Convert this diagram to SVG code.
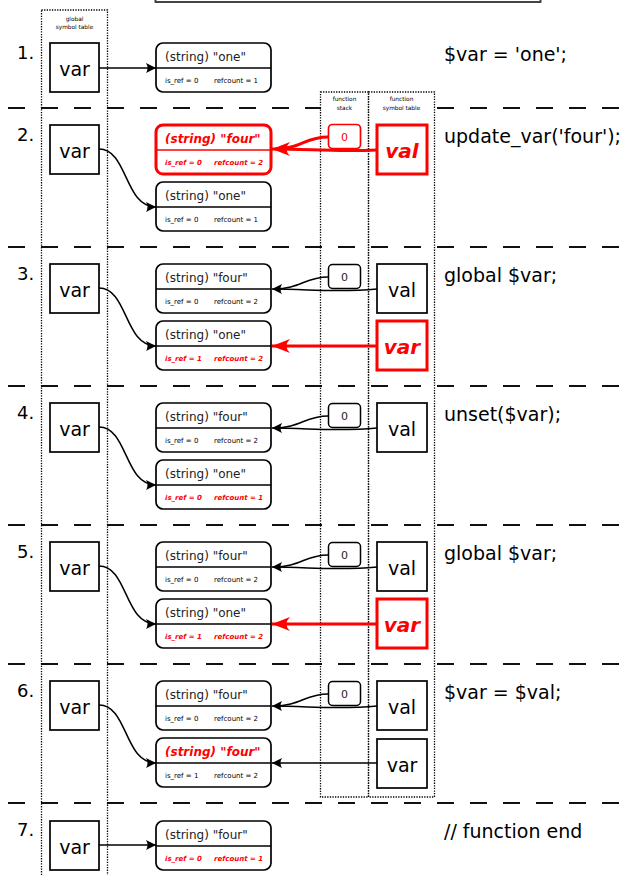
<svg xmlns="http://www.w3.org/2000/svg" width="624" height="875" viewBox="0 0 624 875">
<style>
text{font-family:"DejaVu Sans","Liberation Sans",sans-serif}
.num{font-size:18px;fill:#000}
.code{font-size:19px;fill:#000}
.vt{font-size:19px;text-anchor:middle;fill:#000}
.vtr{font-size:20px;text-anchor:middle;fill:#f00;font-weight:bold;font-style:italic}
.st{font-size:12px;fill:#222}
.str{font-size:12px;fill:#f00;font-weight:bold;font-style:italic}
.rt{font-size:7px;fill:#000}
.rtr{font-size:7px;fill:#f00;font-weight:bold;font-style:italic}
.hd{font-size:5.8px;text-anchor:middle;fill:#000}
.zt{font-size:11px;text-anchor:middle;fill:#222}
.ztr{font-size:11px;text-anchor:middle;fill:#f00}
.box{fill:#fff;stroke:#000;stroke-width:1.7}
.boxr{fill:#fff;stroke:#f00;stroke-width:3}
.div{stroke:#000;stroke-width:1.7}
.divr{stroke:#f00;stroke-width:1.5}
.sep{stroke:#111;stroke-width:2;stroke-dasharray:17 16;fill:none}
.dot{fill:none;stroke:#000;stroke-width:1.3;stroke-dasharray:1.3 1.3}
.ln{fill:none;stroke:#000;stroke-width:1.5}
.lnr{fill:none;stroke:#f00;stroke-width:3}
</style>
<defs>
<marker id="ah" markerUnits="userSpaceOnUse" markerWidth="12" markerHeight="12" viewBox="-11 -6 12 12" refX="0" refY="0" orient="auto">
<path d="M0,0 L-10,-5 Q-7,0 -10,5 Z" fill="#000"/>
</marker>
<marker id="ahr" markerUnits="userSpaceOnUse" markerWidth="20" markerHeight="16" viewBox="-19 -8 20 16" refX="0" refY="0" orient="auto">
<path d="M0,0 L-18,-7 Q-11,0 -18,7 Z" fill="#f00"/>
</marker>
</defs>
<rect x="0" y="0" width="624" height="875" fill="#fff"/>
<!-- partially visible top box -->
<rect x="155.5" y="-20" width="385" height="22" fill="none" stroke="#444" stroke-width="2"/>

<!-- separators -->
<g id="separators">
<line class="sep" x1="8" y1="108" x2="624" y2="108"/>
<line class="sep" x1="8" y1="247" x2="624" y2="247"/>
<line class="sep" x1="8" y1="386" x2="624" y2="386"/>
<line class="sep" x1="8" y1="525" x2="624" y2="525"/>
<line class="sep" x1="8" y1="664" x2="624" y2="664"/>
<line class="sep" x1="8" y1="803" x2="624" y2="803"/>
</g>

<!-- tables -->
<g id="global-table">
<rect class="dot" x="41.5" y="10" width="66" height="880"/>
<rect x="44" y="13" width="61" height="18" fill="#fff"/>
<text class="hd" x="74.5" y="20.5">global</text>
<text class="hd" x="74.5" y="28.5">symbol table</text>
</g>
<g id="function-tables">
<rect x="321" y="93" width="113" height="19" fill="#fff"/>
<rect class="dot" x="320.5" y="92" width="48" height="705"/>
<rect class="dot" x="368.5" y="92" width="66" height="705"/>
<text class="hd" x="344.5" y="101">function</text>
<text class="hd" x="344.5" y="109.5">stack</text>
<text class="hd" x="401.5" y="101">function</text>
<text class="hd" x="401.5" y="109.5">symbol table</text>
</g>

<!-- row numbers and code -->
<g id="labels">
<text class="num" x="17" y="59">1.</text>
<text class="num" x="17" y="141">2.</text>
<text class="num" x="17" y="280">3.</text>
<text class="num" x="17" y="419">4.</text>
<text class="num" x="17" y="558">5.</text>
<text class="num" x="17" y="697">6.</text>
<text class="num" x="17" y="836">7.</text>
<text class="code" x="444" y="61">$var = 'one';</text>
<text class="code" x="444" y="143">update_var('four');</text>
<text class="code" x="444" y="282">global $var;</text>
<text class="code" x="444" y="421">unset($var);</text>
<text class="code" x="444" y="560">global $var;</text>
<text class="code" x="444" y="699">$var = $val;</text>
<text class="code" x="444" y="838">// function end</text>
</g>

<!-- connectors -->
<g id="connectors">
<path class="ln" marker-end="url(#ah)" d="M99,68 L156,68"/>
<path class="ln" marker-end="url(#ah)" d="M99,149 C128,149 124,207 156,207"/>
<path class="ln" marker-end="url(#ah)" d="M99,288 C128,288 124,346 156,346"/>
<path class="ln" marker-end="url(#ah)" d="M99,427 C128,427 124,485 156,485"/>
<path class="ln" marker-end="url(#ah)" d="M99,566 C128,566 124,624 156,624"/>
<path class="ln" marker-end="url(#ah)" d="M99,705 C128,705 124,763 156,763"/>
<path class="ln" marker-end="url(#ah)" d="M99,845 L156,845"/>
<!-- row 2 red -->
<path class="lnr" d="M328,137 C305,137 300,149 275,149"/>
<path class="lnr" marker-end="url(#ahr)" d="M377,150 C335,152 310,149 272,149"/>
<!-- rows 3-6 -->
<path class="ln" d="M328,277 C305,277 300,289 274,289"/>
<path class="ln" marker-end="url(#ah)" d="M377,289 C335,293 310,289 272,289"/>
<path class="lnr" marker-end="url(#ahr)" d="M377,346 L272,346"/>
<path class="ln" d="M328,416 C305,416 300,428 274,428"/>
<path class="ln" marker-end="url(#ah)" d="M377,428 C335,432 310,428 272,428"/>
<path class="ln" d="M328,555 C305,555 300,567 274,567"/>
<path class="ln" marker-end="url(#ah)" d="M377,567 C335,571 310,567 272,567"/>
<path class="lnr" marker-end="url(#ahr)" d="M377,624 L272,624"/>
<path class="ln" d="M328,694 C305,694 300,706 274,706"/>
<path class="ln" marker-end="url(#ah)" d="M377,706 C335,710 310,706 272,706"/>
<path class="ln" marker-end="url(#ah)" d="M377,763 L272,763"/>
</g>

<!-- global var boxes -->
<g id="gvar1"><rect class="box" x="50" y="43" width="49" height="49"/><text class="vt" x="74.5" y="76">var</text></g>
<g id="gvar2"><rect class="box" x="50" y="125" width="49" height="49"/><text class="vt" x="74.5" y="158">var</text></g>
<g id="gvar3"><rect class="box" x="50" y="264" width="49" height="49"/><text class="vt" x="74.5" y="297">var</text></g>
<g id="gvar4"><rect class="box" x="50" y="403" width="49" height="49"/><text class="vt" x="74.5" y="436">var</text></g>
<g id="gvar5"><rect class="box" x="50" y="542" width="49" height="49"/><text class="vt" x="74.5" y="575">var</text></g>
<g id="gvar6"><rect class="box" x="50" y="681" width="49" height="49"/><text class="vt" x="74.5" y="714">var</text></g>
<g id="gvar7"><rect class="box" x="50" y="821" width="49" height="49"/><text class="vt" x="74.5" y="854">var</text></g>

<!-- zvals -->
<g id="zval1">
<rect class="box" x="156" y="43" width="115" height="49" rx="7"/>
<line class="div" x1="156" y1="68" x2="271" y2="68"/>
<text class="st" x="165" y="61">(string) "one"</text>
<text class="rt" x="165" y="83">is_ref = 0</text><text class="rt" x="214" y="83">refcount = 1</text>
</g>
<g id="zval2a">
<rect class="boxr" x="156" y="125" width="115" height="49" rx="7"/>
<line class="divr" x1="156" y1="150" x2="271" y2="150"/>
<text class="str" x="165" y="143">(string) "four"</text>
<text class="rtr" x="165" y="165">is_ref = 0</text><text class="rtr" x="214" y="165">refcount = 2</text>
</g>
<g id="zval2b">
<rect class="box" x="156" y="182" width="115" height="49" rx="7"/>
<line class="div" x1="156" y1="207" x2="271" y2="207"/>
<text class="st" x="165" y="200">(string) "one"</text>
<text class="rt" x="165" y="222">is_ref = 0</text><text class="rt" x="214" y="222">refcount = 1</text>
</g>
<g id="zval3a">
<rect class="box" x="156" y="264" width="115" height="49" rx="7"/>
<line class="div" x1="156" y1="289" x2="271" y2="289"/>
<text class="st" x="165" y="282">(string) "four"</text>
<text class="rt" x="165" y="304">is_ref = 0</text><text class="rt" x="214" y="304">refcount = 2</text>
</g>
<g id="zval3b">
<rect class="box" x="156" y="321" width="115" height="49" rx="7"/>
<line class="div" x1="156" y1="346" x2="271" y2="346"/>
<text class="st" x="165" y="339">(string) "one"</text>
<text class="rtr" x="165" y="361">is_ref = 1</text><text class="rtr" x="214" y="361">refcount = 2</text>
</g>
<g id="zval4a">
<rect class="box" x="156" y="403" width="115" height="49" rx="7"/>
<line class="div" x1="156" y1="428" x2="271" y2="428"/>
<text class="st" x="165" y="421">(string) "four"</text>
<text class="rt" x="165" y="443">is_ref = 0</text><text class="rt" x="214" y="443">refcount = 2</text>
</g>
<g id="zval4b">
<rect class="box" x="156" y="460" width="115" height="49" rx="7"/>
<line class="div" x1="156" y1="485" x2="271" y2="485"/>
<text class="st" x="165" y="478">(string) "one"</text>
<text class="rtr" x="165" y="500">is_ref = 0</text><text class="rtr" x="214" y="500">refcount = 1</text>
</g>
<g id="zval5a">
<rect class="box" x="156" y="542" width="115" height="49" rx="7"/>
<line class="div" x1="156" y1="567" x2="271" y2="567"/>
<text class="st" x="165" y="560">(string) "four"</text>
<text class="rt" x="165" y="582">is_ref = 0</text><text class="rt" x="214" y="582">refcount = 2</text>
</g>
<g id="zval5b">
<rect class="box" x="156" y="599" width="115" height="49" rx="7"/>
<line class="div" x1="156" y1="624" x2="271" y2="624"/>
<text class="st" x="165" y="617">(string) "one"</text>
<text class="rtr" x="165" y="639">is_ref = 1</text><text class="rtr" x="214" y="639">refcount = 2</text>
</g>
<g id="zval6a">
<rect class="box" x="156" y="681" width="115" height="49" rx="7"/>
<line class="div" x1="156" y1="706" x2="271" y2="706"/>
<text class="st" x="165" y="699">(string) "four"</text>
<text class="rt" x="165" y="721">is_ref = 0</text><text class="rt" x="214" y="721">refcount = 2</text>
</g>
<g id="zval6b">
<rect class="box" x="156" y="738" width="115" height="49" rx="7"/>
<line class="div" x1="156" y1="763" x2="271" y2="763"/>
<text class="str" x="165" y="756">(string) "four"</text>
<text class="rt" x="165" y="778">is_ref = 1</text><text class="rt" x="214" y="778">refcount = 2</text>
</g>
<g id="zval7">
<rect class="box" x="156" y="821" width="115" height="49" rx="7"/>
<line class="div" x1="156" y1="846" x2="271" y2="846"/>
<text class="st" x="165" y="839">(string) "four"</text>
<text class="rtr" x="165" y="861">is_ref = 0</text><text class="rtr" x="214" y="861">refcount = 1</text>
</g>

<!-- function stack entries -->
<g id="stack2"><rect x="328.5" y="124.5" width="32" height="24" rx="4" fill="#fff" stroke="#f00" stroke-width="1.7"/><text class="ztr" x="344.5" y="141">0</text></g>
<g id="stack3"><rect x="328.5" y="264.5" width="32" height="24" rx="4" fill="#fff" stroke="#000" stroke-width="1.5"/><text class="zt" x="344.5" y="281">0</text></g>
<g id="stack4"><rect x="328.5" y="403.5" width="32" height="24" rx="4" fill="#fff" stroke="#000" stroke-width="1.5"/><text class="zt" x="344.5" y="420">0</text></g>
<g id="stack5"><rect x="328.5" y="542.5" width="32" height="24" rx="4" fill="#fff" stroke="#000" stroke-width="1.5"/><text class="zt" x="344.5" y="559">0</text></g>
<g id="stack6"><rect x="328.5" y="681.5" width="32" height="24" rx="4" fill="#fff" stroke="#000" stroke-width="1.5"/><text class="zt" x="344.5" y="698">0</text></g>

<!-- function symbol table entries -->
<g id="fval2"><rect class="boxr" x="377" y="125" width="50" height="49"/><text class="vtr" x="402" y="158">val</text></g>
<g id="fval3"><rect class="box" x="377" y="264" width="50" height="49"/><text class="vt" x="402" y="297">val</text></g>
<g id="fvar3"><rect class="boxr" x="377" y="321" width="50" height="49"/><text class="vtr" x="402" y="354">var</text></g>
<g id="fval4"><rect class="box" x="377" y="403" width="50" height="49"/><text class="vt" x="402" y="436">val</text></g>
<g id="fval5"><rect class="box" x="377" y="542" width="50" height="49"/><text class="vt" x="402" y="575">val</text></g>
<g id="fvar5"><rect class="boxr" x="377" y="599" width="50" height="49"/><text class="vtr" x="402" y="632">var</text></g>
<g id="fval6"><rect class="box" x="377" y="681" width="50" height="49"/><text class="vt" x="402" y="714">val</text></g>
<g id="fvar6"><rect class="box" x="377" y="739" width="50" height="49"/><text class="vt" x="402" y="772">var</text></g>
</svg>
